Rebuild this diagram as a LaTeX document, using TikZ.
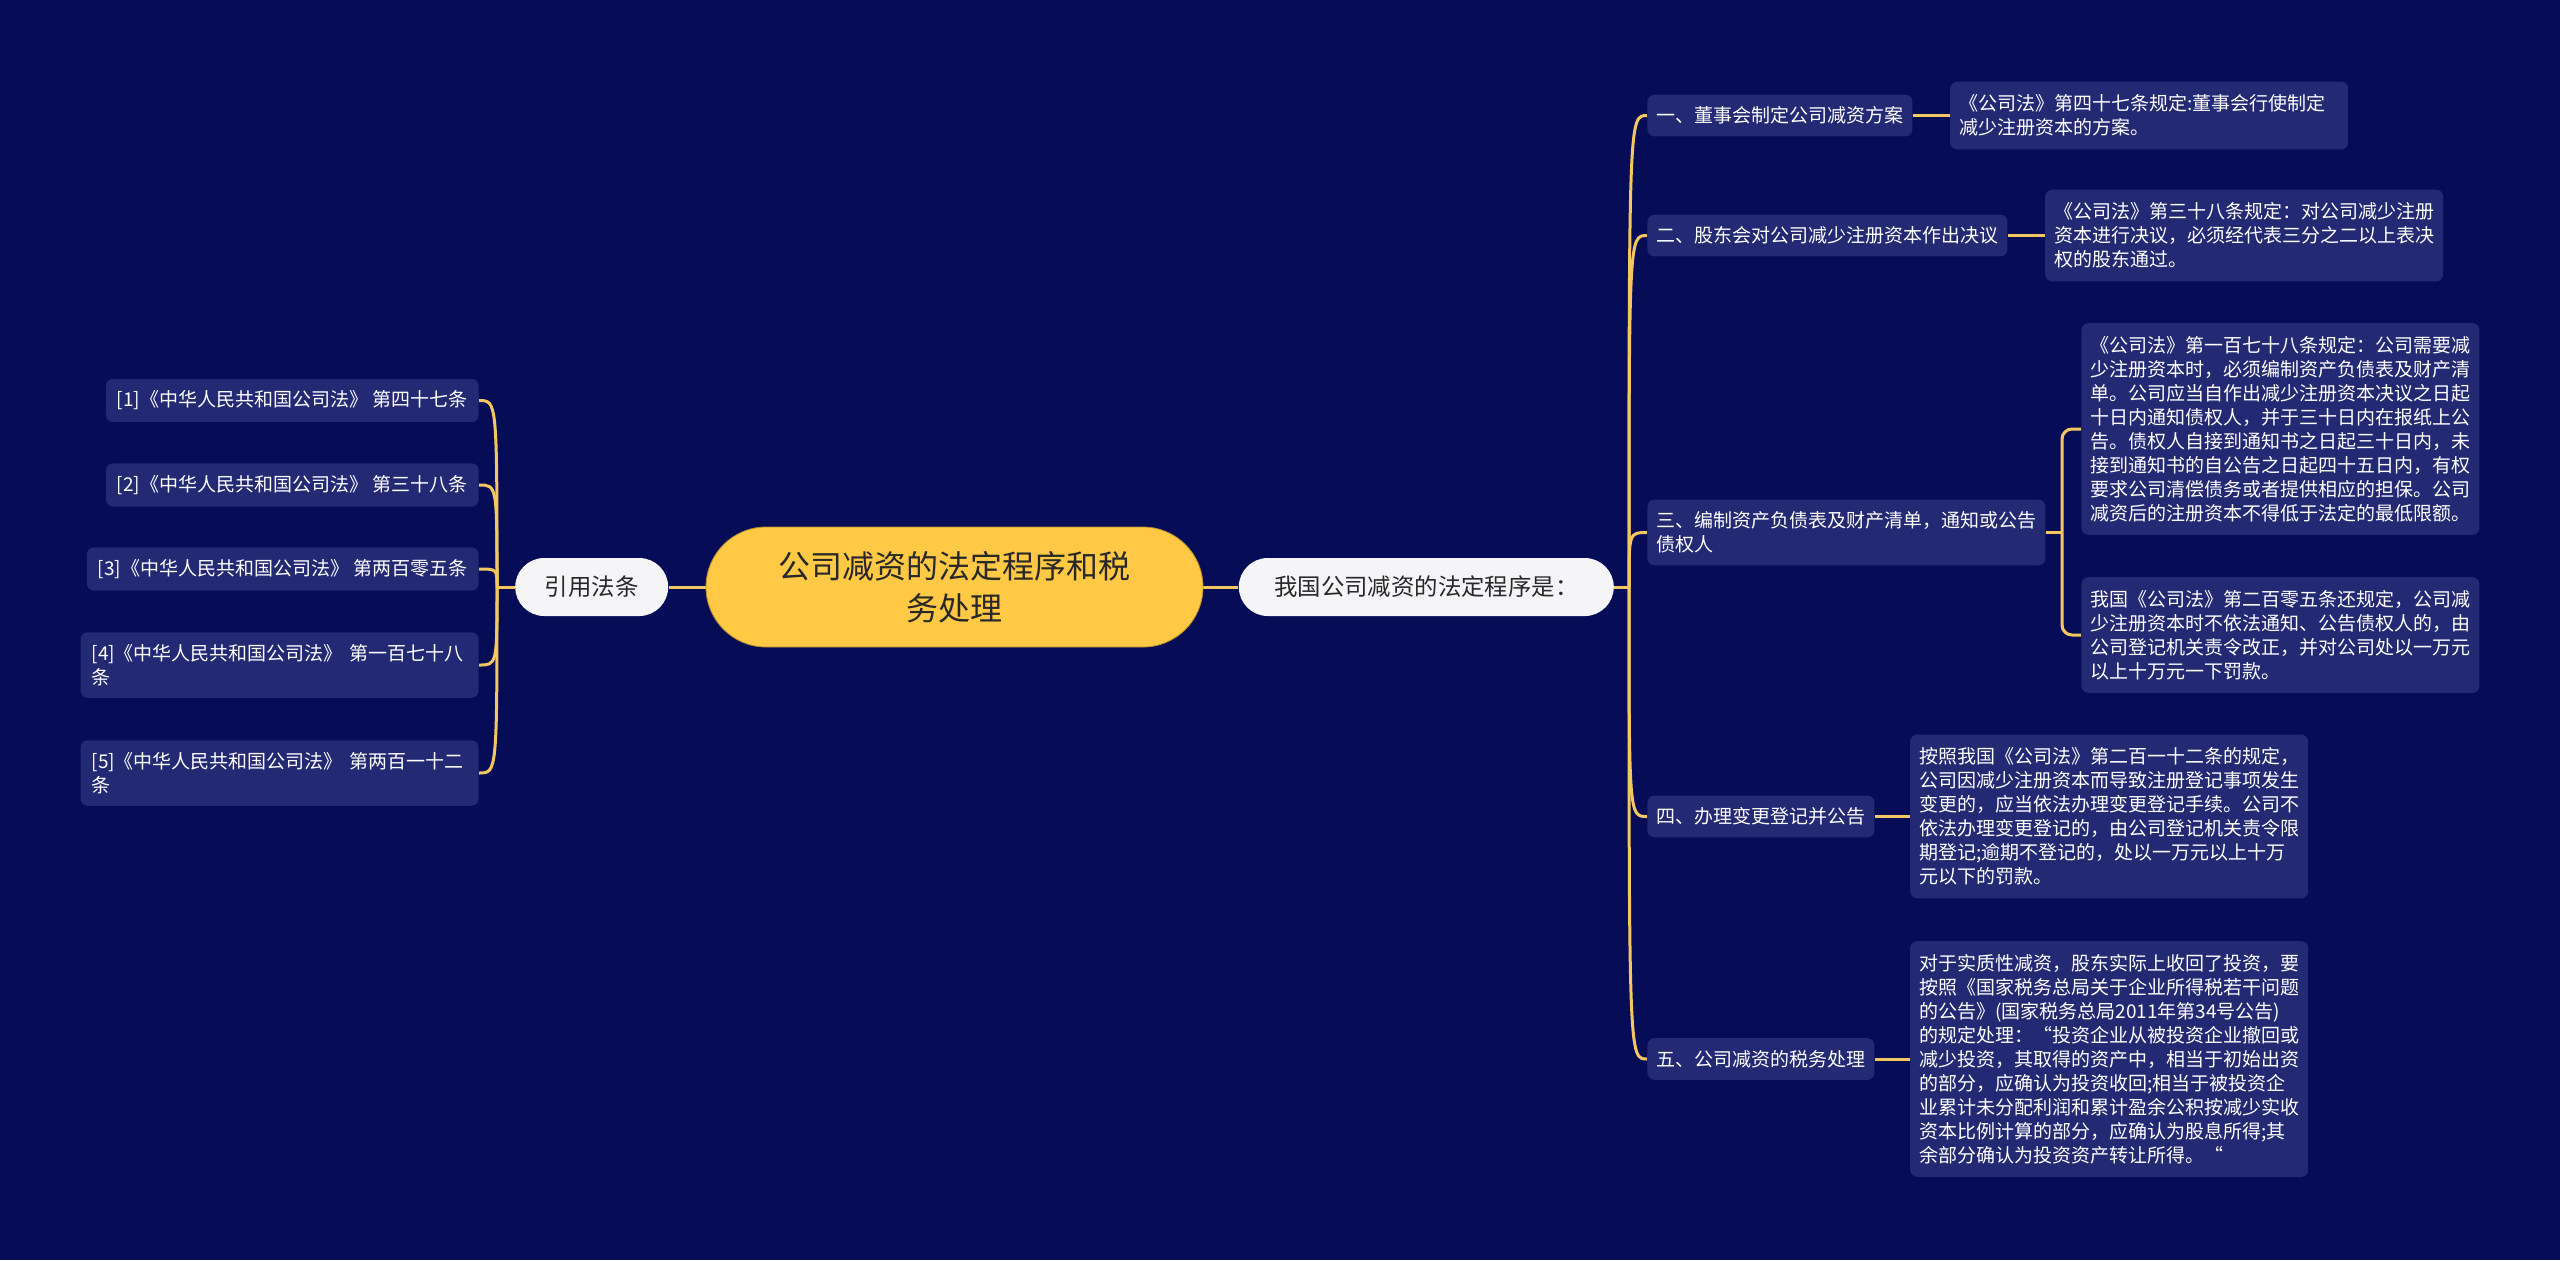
\documentclass[tikz,border=0pt]{standalone}
\usepackage{fontspec}
\setmainfont{Noto Sans CJK SC}
\usetikzlibrary{positioning, backgrounds}
\definecolor{mapNavy}{RGB}{7,12,87}
\definecolor{mapBox}{RGB}{36,41,116}
\definecolor{mapGold}{RGB}{255,200,69}
\definecolor{mapLink}{RGB}{243,200,96}
\definecolor{mapWhite}{RGB}{245,245,247}
\definecolor{mapInk}{RGB}{40,40,40}

\begin{document}
\begin{tikzpicture}[
        x=0.5pt, y=-0.5pt,
        topic/.style={rectangle, rounded corners=30pt, fill=mapGold, draw=mapGold!70!black, line width=0.4pt, text=mapInk, minimum width=248.5pt, minimum height=60pt, align=center, font=\fontsize{16}{21}\selectfont},
        hub/.style={rectangle, rounded corners=14.5pt, fill=mapWhite, text=mapInk, minimum height=29pt, inner xsep=0pt, align=center, font=\fontsize{11.7}{14}\selectfont},
        stage/.style={rectangle, rounded corners=3.5pt, fill=mapBox, text=white, inner xsep=4.5pt, inner ysep=6pt, align=left, font=\fontsize{9.5}{12}\selectfont},
        note/.style={stage, text width=190pt, inner ysep=6.5pt},
        law/.style={stage, inner xsep=5.5pt},
        link/.style={draw=mapLink, line width=1.5pt}
    ]
        \useasboundingbox (0,0) rectangle (2560,1260);

        % Centre
        \node[topic] (root) at (954.5,587) {公司减资的法定程序和税\\务处理};
        \node[hub, minimum width=76.5pt, left=18.5pt of root] (cite) {引用法条};
        \node[hub, minimum width=187.5pt, right=17.5pt of root] (proc) {我国公司减资的法定程序是：};

        % Steps
        \node[stage, anchor=west] (s1) at (1647,115.5) {一、董事会制定公司减资方案};
        \node[stage, anchor=west] (s2) at (1647,235.5) {二、股东会对公司减少注册资本作出决议};
        \node[stage, anchor=west] (s3) at (1647,532.5) {三、编制资产负债表及财产清单，通知或公告\\债权人};
        \node[stage, anchor=west] (s4) at (1647,816.5) {四、办理变更登记并公告};
        \node[stage, anchor=west] (s5) at (1647,1059) {五、公司减资的税务处理};

        % Details
        \node[note, right=18.5pt of s1] (d1) {《公司法》第四十七条规定:董事会行使制定\\减少注册资本的方案。};
        \node[note, right=18.5pt of s2] (d2) {《公司法》第三十八条规定：对公司减少注册\\资本进行决议，必须经代表三分之二以上表决\\权的股东通过。};
        \node[note, anchor=west] (d3a) at (2081,429) {《公司法》第一百七十八条规定：公司需要减\\少注册资本时，必须编制资产负债表及财产清\\单。公司应当自作出减少注册资本决议之日起\\十日内通知债权人，并于三十日内在报纸上公\\告。债权人自接到通知书之日起三十日内，未\\接到通知书的自公告之日起四十五日内，有权\\要求公司清偿债务或者提供相应的担保。公司\\减资后的注册资本不得低于法定的最低限额。};
        \node[note, anchor=west] (d3b) at (2081,635) {我国《公司法》第二百零五条还规定，公司减\\少注册资本时不依法通知、公告债权人的，由\\公司登记机关责令改正，并对公司处以一万元\\以上十万元一下罚款。};
        \node[note, right=17.5pt of s4] (d4) {按照我国《公司法》第二百一十二条的规定，\\公司因减少注册资本而导致注册登记事项发生\\变更的，应当依法办理变更登记手续。公司不\\依法办理变更登记的，由公司登记机关责令限\\期登记;逾期不登记的，处以一万元以上十万\\元以下的罚款。};
        \node[note, right=17.5pt of s5] (d5) {对于实质性减资，股东实际上收回了投资，要\\按照《国家税务总局关于企业所得税若干问题\\的公告》(国家税务总局2011年第34号公告)\\的规定处理：“投资企业从被投资企业撤回或\\减少投资，其取得的资产中，相当于初始出资\\的部分，应确认为投资收回;相当于被投资企\\业累计未分配利润和累计盈余公积按减少实收\\资本比例计算的部分，应确认为股息所得;其\\余部分确认为投资资产转让所得。“};

        % Cited laws
        \node[law, anchor=east] (r1) at (479,400.5) {[1]《中华人民共和国公司法》 第四十七条};
        \node[law, anchor=east] (r2) at (479,485) {[2]《中华人民共和国公司法》 第三十八条};
        \node[law, anchor=east] (r3) at (479,569) {[3]《中华人民共和国公司法》 第两百零五条};
        \node[law, anchor=east, text width=188pt] (r4) at (479,665) {[4]《中华人民共和国公司法》 第一百七十八\\条};
        \node[law, anchor=east, text width=188pt] (r5) at (479,773) {[5]《中华人民共和国公司法》 第两百一十二\\条};

        \coordinate (rj) at (1629,587);
        \coordinate (lj) at (497,587);
        \coordinate (bj) at (2062,532.5);

        \begin{scope}[on background layer]
            \fill[mapNavy] (0,0) rectangle (2560,1260);
            \draw[link] (cite) -- (root);
            \draw[link] (root) -- (proc);
            \draw[link] (proc.east) -- (rj);
            \foreach \s in {s1,s2,s3,s4,s5}
                \draw[link] (rj) .. controls (rj |- \s.west) .. (\s.west);
            \draw[link] (cite.west) -- (lj);
            \foreach \r in {r1,r2,r3,r4,r5}
                \draw[link] (lj) .. controls (lj |- \r.east) .. (\r.east);
            \draw[link] (s1) -- (d1);
            \draw[link] (s2) -- (d2);
            \draw[link] (s4) -- (d4);
            \draw[link] (s5) -- (d5);
            \draw[link] (s3.east) -- (bj);
            \draw[link, rounded corners=5pt] (bj) |- (d3a.west);
            \draw[link, rounded corners=5pt] (bj) |- (d3b.west);
        \end{scope}
    \end{tikzpicture}
\end{document}
